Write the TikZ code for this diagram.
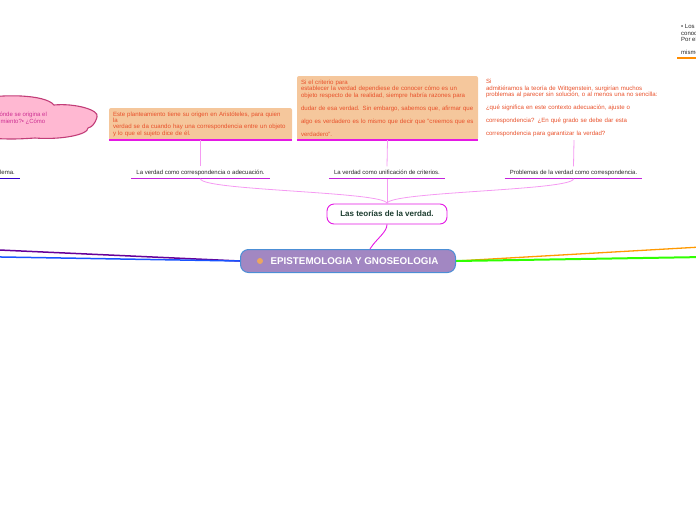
\documentclass[tikz,border=0pt]{standalone}
\usepackage{fontspec}
\setmainfont{Liberation Sans}
\usetikzlibrary{backgrounds}
\definecolor{notefill}{HTML}{F5C79C}
\definecolor{notetext}{HTML}{E8502A}
\definecolor{linkpink}{HTML}{F59AF2}
\definecolor{ulmag}{HTML}{C421DC}
\definecolor{notemag}{HTML}{E418E4}
\definecolor{mainfill}{HTML}{A287C2}
\definecolor{mainedge}{HTML}{4C8FD6}
\definecolor{cloudfill}{HTML}{FFB8D2}
\definecolor{cloudedge}{HTML}{C23D78}
\definecolor{teorink}{HTML}{1D3D30}
\begin{document}
\begin{tikzpicture}[x=1pt,y=-1pt,
  topic/.style={inner xsep=5pt,inner ysep=0pt,minimum height=12pt,font=\fontsize{6}{7}\selectfont,text=black!85},
  note/.style={text width=173pt,inner xsep=4pt,inner ysep=0pt,minimum height=64pt,align=left,font=\fontsize{6.1}{6.6}\selectfont,text=notetext},
  notebox/.style={note,fill=notefill,rounded corners=2pt},
  uline/.style={ulmag,line width=1.5pt},
  noteline/.style={notemag,line width=1.5pt},
  link/.style={linkpink,line width=0.8pt},
  central/.style={rounded corners=8pt,fill=mainfill,draw=mainedge,line width=1pt,minimum width=215pt,minimum height=23pt,text=white,font=\fontsize{9.8}{11}\selectfont\bfseries},
  subject/.style={rounded corners=7pt,fill=white,draw=notemag,line width=0.9pt,minimum width=120pt,minimum height=20pt,text=teorink,font=\fontsize{8}{9}\selectfont\bfseries}]
\useasboundingbox (0,0) rectangle (696,520);
\clip (0,0) rectangle (696,520);

\coordinate (westA) at (-40,248.2);
\coordinate (westB) at (-40,256.3);
\coordinate (eastA) at (736,245);
\coordinate (eastB) at (736,256.5);

\filldraw[fill=cloudfill,draw=cloudedge,line width=1.1pt] (-20,99) .. controls (0,94) and (45,94) .. (54,105)
  .. controls (75,103) and (100,110) .. (97,117) .. controls (95,124) and (92,127) .. (88,128)
  .. controls (88,135) and (60,140) .. (35,138) .. controls (20,139) and (5,140) .. (-20,137);
\node(origen) [anchor=west,align=left,inner sep=0pt,font=\fontsize{6}{6.6}\selectfont,text=cloudedge!80!magenta] at (-17,118) {¿De dónde se origina el\\conocimiento?• ¿Cómo};

\node(main) [central] at (348,261) {\hspace{13pt}EPISTEMOLOGIA Y GNOSEOLOGIA};
\node(planet) [fill=orange!55!brown!70,circle,inner sep=0pt,minimum size=6pt] at (260,261) {};
\node(teorias) [subject] at (387,214) {Las teorías de la verdad.};

\node(corresp) [topic] at (200.5,172.5) {La verdad como correspondencia o adecuación.};
\node(unif) [topic] at (387,172.5) {La verdad como unificación de criterios.};
\node(problemas) [topic] at (573.5,172.5) {Problemas de la verdad como correspondencia.};
\node(problema) [topic,anchor=east] at (20,172.5) {El problema.};
\draw[uline] (corresp.south west) -- (corresp.south east);
\draw[uline] (unif.south west) -- (unif.south east);
\draw[uline] (problemas.south west) -- (problemas.south east);
\draw[uline,color=blue!60!violet] (problema.south west) -- (problema.south east);

\node(aristoteles) [notebox,text width=175pt,minimum height=32pt,font=\fontsize{6.1}{5.6}\selectfont] at (200.5,124) {Este planteamiento tiene su origen en Aristóteles, para quien\\la\\verdad se da cuando hay una correspondencia entre un objeto\\y lo que el sujeto dice de él.};
\node(criterio) [notebox] at (387.5,108) {Si el criterio para\\establecer la verdad dependiese de conocer cómo es un\\objeto respecto de la realidad, siempre habría razones para\\[6.4pt]dudar de esa verdad. Sin embargo, sabemos que, afirmar que\\[6.4pt]algo es verdadero es lo mismo que decir que "creemos que es\\[6.4pt]verdadero".};
\node(wittgenstein) [note,text width=176pt] at (574,108) {Si\\admitiéramos la teoría de Wittgenstein, surgirían muchos\\problemas al parecer sin solución, o al menos una no sencilla:\\[6.4pt]¿qué significa en este contexto adecuación, ajuste o\\[6.4pt]correspondencia? ¿En qué grado se debe dar esta\\[6.4pt]correspondencia para garantizar la verdad?};
\draw[noteline] (aristoteles.south west) -- (aristoteles.south east);
\draw[noteline] (criterio.south west) -- (criterio.south east);

\node(toprt) [anchor=south west,align=left,inner xsep=4pt,inner ysep=3pt,font=\fontsize{6}{6.5}\selectfont,text=black!85] at (677,58) {• Los\\conocimientos\\Por el\\[6.5pt]mismo};
\draw[orange!90!yellow,line width=1.5pt] (toprt.south west) -- (toprt.south east);

\draw[link] (corresp.north) -- (aristoteles.south);
\draw[link] (unif.north) -- (criterio.south);
\draw[link] (problemas.north) -- (wittgenstein.south);
\draw[link] (teorias.north) .. controls +(0,-12) and +(0,12) .. (corresp.south);
\draw[link] (teorias.north) -- (unif.south);
\draw[link] (teorias.north) .. controls +(0,-12) and +(0,12) .. (problemas.south);
\draw[notemag,line width=0.9pt] ([xshift=22pt]main.north) .. controls +(6,-10) and +(0,8) .. (teorias.south);

\begin{scope}[on background layer]
\draw[violet!80!blue,line width=1.5pt] (main.west) -- (westA);
\draw[blue!75!cyan!90,line width=1.5pt] (main.west) -- (westB);
\draw[orange!80!yellow,line width=1.3pt] (main.east) -- (eastA);
\draw[green!75!lime,line width=2pt] (main.east) -- (eastB);
\end{scope}
\end{tikzpicture}
\end{document}
